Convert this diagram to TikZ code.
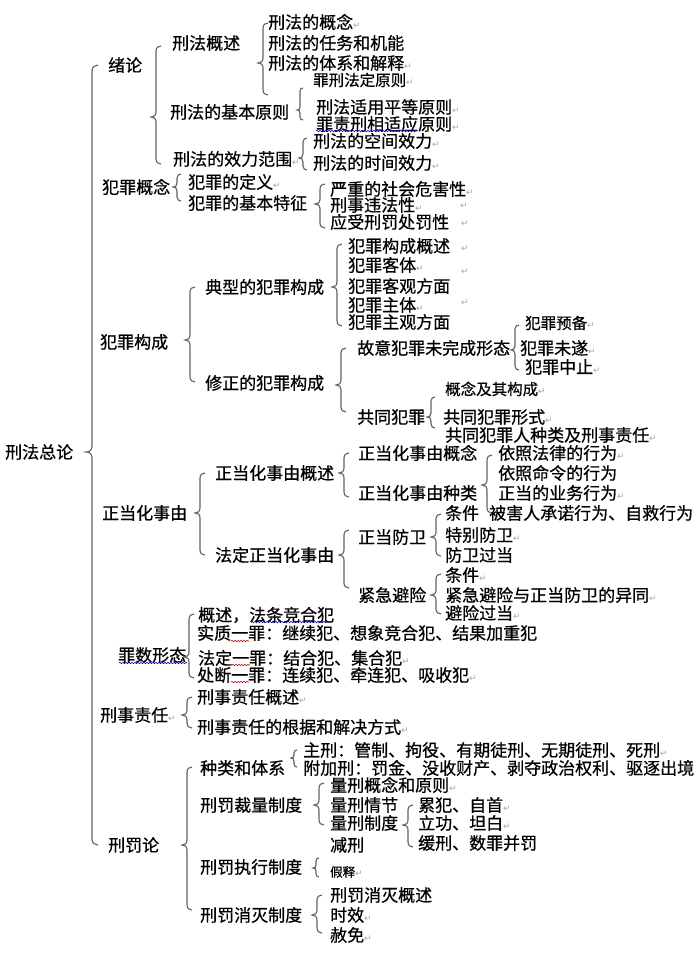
\documentclass[tikz,border=0pt]{standalone}
\usepackage{fontspec}
\setmainfont[FakeBold=0.6]{Noto Sans CJK SC}
\newfontfamily\djv{DejaVu Sans}
\usetikzlibrary{decorations.pathmorphing}
\newcommand\rt{{\djv\fontsize{9}{9}\selectfont\textcolor{black!35}{↵}}}
\tikzset{
 t/.style={anchor=west, inner sep=0pt, font=\fontsize{17}{17}\selectfont, text=black},
 ts/.style={anchor=west, inner sep=0pt, font=\fontsize{15.5}{16}\selectfont, text=black},
 tss/.style={anchor=west, inner sep=0pt, font=\fontsize{12.5}{13}\selectfont, text=black},
 brline/.style={draw=black!62, line width=1.1pt},
 wavyb/.style={draw=blue!75!black, line width=0.6pt, decorate, decoration={snake, segment length=3pt, amplitude=0.7pt}},
 wavyr/.style={draw=red!85!black, line width=0.6pt, decorate, decoration={snake, segment length=3pt, amplitude=0.7pt}},
}
% brace: [hook] x top bottom tip
\newcommand\brc[5][5]{%
 \draw[brline] (#2+#1,#3) .. controls (#2+0.5*#1,#3) and (#2,#3+0.3*#1) .. (#2,#3+#1)
   -- (#2,#5-#1) .. controls (#2,#5-0.3*#1) and (#2-0.4*#1,#5) .. (#2-#1,#5)
   .. controls (#2-0.4*#1,#5) and (#2,#5+0.3*#1) .. (#2,#5+#1)
   -- (#2,#4-#1) .. controls (#2,#4-0.3*#1) and (#2+0.5*#1,#4) .. (#2+#1,#4);}
\begin{document}
\begin{tikzpicture}[x=1pt,y=-1pt]
\useasboundingbox (0,0) rectangle (700,953);
\fill[white] (0,0) rectangle (700,953);

% root
\node[t] (root) at (5,452) {刑法总论};
\brc[6]{92}{65}{845}{452}

% level 1
\node[t] (xl) at (108,65) {绪论};
\node[t] (fzgn) at (102,187) {犯罪概念};
\node[t] (fzgc) at (100,342) {犯罪构成};
\node[t] (zdh) at (102,513) {正当化事由};
\node[t] (zsxt) at (118,655) {罪数形态};
\draw[wavyb] (119,663) -- (187,663);
\node[t] (xszr) at (100,715) {刑事责任\rt};
\node[t] (xfl) at (108,845) {刑罚论};

% 绪论
\brc{156}{46}{164}{117}
\node[t] (xfgs) at (172,43) {刑法概述};
\node[t] (jbyz) at (170,112) {刑法的基本原则};
\node[t] (xlfw) at (173,159) {刑法的效力范围\rt};

\brc{263}{23}{95}{63}
\node[t] (a11) at (268,22) {刑法的概念\rt};
\node[t] (a12) at (268,43) {刑法的任务和机能};
\node[t] (a13) at (268,63) {刑法的体系和解释\rt};

\brc[3]{300}{88}{120}{110}
\node[ts] (a21) at (313,80) {罪刑法定原则\rt};
\node[t] (a22) at (316,107) {刑法适用平等原则\rt};
\node[t] (a23) at (316,124) {罪责刑相适应原则\rt};
\draw[wavyb] (316,131) -- (417,131);

\brc[4]{303}{138}{170}{158}
\node[t] (a31) at (313,141) {刑法的空间效力\rt};
\node[t] (a32) at (313,163) {刑法的时间效力\rt};

% 犯罪概念
\brc[4]{177}{174}{201}{187}
\node[t] (b1) at (188,182) {犯罪的定义\rt};
\node[t] (b2) at (188,203) {犯罪的基本特征};
\brc{320}{184}{228}{204}
\node[t] (b21) at (330,189) {严重的社会危害性\rt};
\node[t] (b22) at (330,205) {刑事违法性\rt};
\node[t] (b22r) at (460,206) {\rt};
\node[t] (b23) at (330,222) {应受刑罚处罚性};
\node[t] (b23r) at (461,224) {\rt};

% 犯罪构成
\brc{190}{287}{382}{340}
\node[t] (c1) at (205,287) {典型的犯罪构成};
\node[t] (c2) at (205,383) {修正的犯罪构成};
\brc{337}{244}{326}{287}
\node[t] (c11) at (348,246) {犯罪构成概述};
\node[t] (c11r) at (461,249) {\rt};
\node[t] (c12) at (348,265) {犯罪客体\rt};
\node[t] (c13r) at (461,272) {\rt};
\node[t] (c13) at (348,286) {犯罪客观方面};
\node[t] (c14) at (348,305) {犯罪主体\rt};
\node[t] (c14r) at (461,303) {\rt};
\node[t] (c15) at (348,322) {犯罪主观方面};

\brc{341}{348}{412}{385}
\node[t] (c21) at (357,348) {故意犯罪未完成形态};
\node[t] (c22) at (357,417) {共同犯罪};
\brc[4]{515}{325}{370}{350}
\node[ts] (c211) at (525,323) {犯罪预备\rt};
\node[t] (c212) at (520,348) {犯罪未遂\rt};
\node[t] (c213) at (525,367) {犯罪中止\rt};
\brc[4]{431}{397}{428}{417}
\node[ts] (c221) at (445,389) {概念及其构成\rt};
\node[t] (c222) at (443,417) {共同犯罪形式\rt};
\node[t] (c223) at (445,435) {共同犯罪人种类及刑事责任\rt};

% 正当化事由
\brc{200}{473}{555}{513}
\node[t] (d1) at (215,473) {正当化事由概述};
\node[t] (d2) at (215,555) {法定正当化事由};
\brc{344}{453}{497}{473}
\node[t] (d11) at (358,453) {正当化事由概念};
\node[t] (d12) at (358,493) {正当化事由种类};
\brc{487}{455}{513}{485}
\node[t] (d121) at (498,453) {依照法律的行为\rt};
\node[t] (d122) at (498,473) {依照命令的行为};
\node[t] (d123) at (498,493) {正当的业务行为\rt};
\node[t] (d124) at (489,513) {被害人承诺行为、自救行为};

\brc{344}{530}{588}{555}
\node[t] (d21) at (358,537) {正当防卫};
\node[t] (d22) at (358,595) {紧急避险};
\brc{436}{514}{556}{537}
\node[t] (d211) at (445,513) {条件};
\node[t] (d212) at (445,535) {特别防卫\rt};
\node[t] (d213) at (445,555) {防卫过当};
\brc{436}{574}{614}{595}
\node[t] (d221) at (445,575) {条件\rt};
\node[t] (d222) at (445,595) {紧急避险与正当防卫的异同\rt};
\node[t] (d223) at (445,613) {避险过当\rt};

% 罪数形态
\brc{189}{614}{678}{657}
\node[t] (e1) at (198,615) {概述，法条竞合犯};
\draw[wavyb] (251,622) -- (328,622);
\node[t] (e2) at (197,633) {实质一罪：继续犯、想象竞合犯、结果加重犯};
\draw[wavyr] (231,641) -- (249,641);
\node[t] (e3) at (198,658) {法定一罪：结合犯、集合犯\rt};
\draw[wavyr] (232,665) -- (250,665);
\node[t] (e4) at (197,675) {处断一罪：连续犯、牵连犯、吸收犯\rt};
\draw[wavyr] (231,682) -- (249,682);

% 刑事责任
\brc{187}{697}{728}{715}
\node[t] (f1) at (197,697) {刑事责任概述\rt};
\node[t] (f2) at (197,727) {刑事责任的根据和解决方式\rt};

% 刑罚论
\brc{187}{767}{910}{845}
\node[t] (g1) at (200,768) {种类和体系};
\node[t] (g2) at (200,805) {刑罚裁量制度};
\node[t] (g3) at (200,867) {刑罚执行制度};
\node[t] (g4) at (200,915) {刑罚消灭制度};

\brc[3]{294}{750}{767}{758}
\node[t] (g11) at (303,750) {主刑：管制、拘役、有期徒刑、无期徒刑、死刑\rt};
\node[t] (g12) at (303,768) {附加刑：罚金、没收财产、剥夺政治权利、驱逐出境};

\brc{319}{783}{825}{805}
\node[t] (g21) at (330,785) {量刑概念和原则\rt};
\node[t] (g22) at (330,805) {量刑情节};
\node[t] (g23) at (330,823) {量刑制度};
\brc{408}{805}{847}{825}
\node[t] (g231) at (418,805) {累犯、自首\rt};
\node[t] (g232) at (418,823) {立功、坦白\rt};
\node[t] (g233) at (418,843) {缓刑、数罪并罚};

\brc[3]{316}{858}{877}{868}
\node[t] (g31) at (330,845) {减刑};
\node[tss] (g32) at (330,872) {假释\rt};

\brc{317}{895}{933}{915}
\node[t] (g41) at (330,895) {刑罚消灭概述};
\node[t] (g42) at (330,915) {时效\rt};
\node[t] (g43) at (330,935) {赦免\rt};
\end{tikzpicture}
\end{document}
